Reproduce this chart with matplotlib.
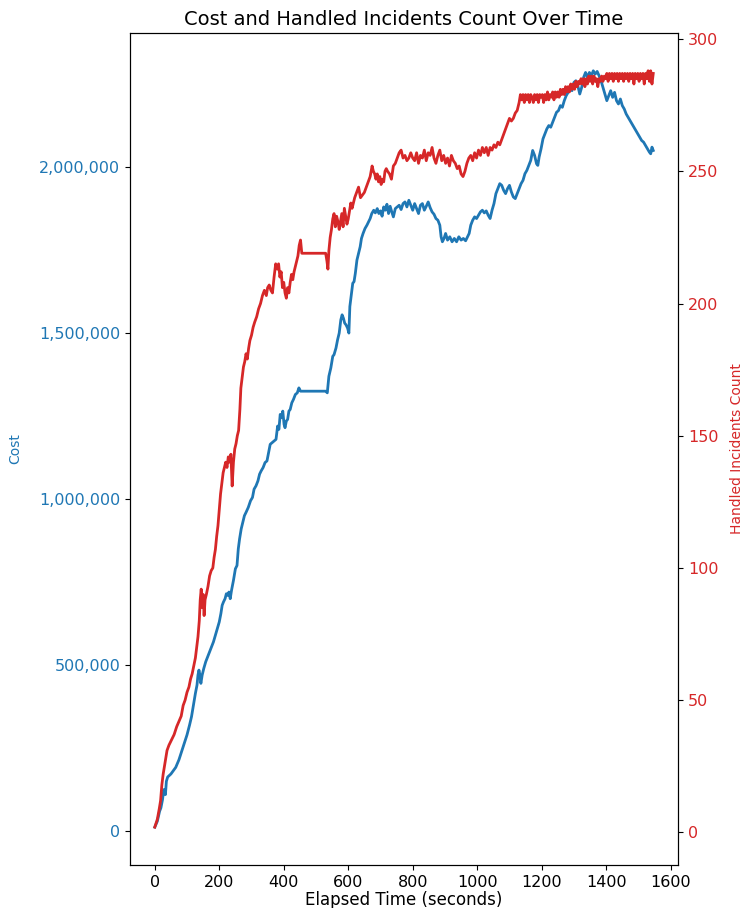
"""Cost and handled-incident count over the elapsed run time (twin y axes)."""

import matplotlib
matplotlib.use("Agg")
import matplotlib.pyplot as plt
from matplotlib.ticker import FuncFormatter

# cost trace: (elapsed seconds, cumulative cost)
COST_T = [
    0, 8, 15, 19, 24, 28, 33, 36, 40, 50, 65, 75, 85, 92, 100, 108, 114, 120, 126, 131,
    134, 137, 140, 143, 147, 152, 158, 164, 170, 176, 182, 188, 194, 200, 205, 209, 213, 218, 222, 226,
    230, 234, 238, 244, 250, 255, 259, 263, 268, 273, 278, 283, 290, 297, 303, 308, 314, 320, 325, 330,
    336, 342, 348, 353, 358, 364, 370, 376, 381, 385, 389, 393, 397, 401, 404, 408, 412, 416, 420, 425,
    430, 436, 442, 447, 452, 530, 535, 540, 546, 552, 556, 562, 567, 572, 577, 581, 585, 589, 593, 598,
    602, 605, 610, 614, 618, 622, 627, 632, 637, 641, 646, 652, 658, 663, 668, 673, 679, 684, 690, 695,
    700, 705, 710, 715, 720, 725, 730, 735, 740, 746, 752, 758, 764, 770, 776, 782, 788, 794, 800, 806,
    812, 818, 824, 830, 836, 842, 848, 854, 860, 866, 872, 878, 884, 888, 892, 897, 902, 908, 915, 922,
    929, 936, 943, 950, 957, 964, 970, 975, 980, 986, 992, 998, 1004, 1010, 1016, 1022, 1028, 1034, 1040, 1046,
    1052, 1058, 1064, 1070, 1076, 1082, 1088, 1094, 1100, 1106, 1112, 1118, 1124, 1130, 1136, 1142, 1148, 1154, 1160, 1166,
    1172, 1178, 1184, 1188, 1192, 1198, 1204, 1210, 1216, 1222, 1228, 1234, 1240, 1246, 1252, 1258, 1264, 1270, 1276, 1282,
    1288, 1294, 1300, 1306, 1312, 1318, 1324, 1330, 1336, 1342, 1348, 1354, 1360, 1366, 1372, 1378, 1384, 1390, 1396, 1402,
    1408, 1414, 1420, 1426, 1432, 1438, 1444, 1450, 1456, 1462, 1468, 1474, 1480, 1486, 1492, 1498, 1504, 1510, 1516, 1522,
    1528, 1534, 1538, 1542, 1546,
]
COST = [
    12000, 30000, 60000, 70000, 95000, 125000, 110000, 150000, 163000, 172000, 192000, 215000, 245000, 265000, 290000, 320000, 345000, 380000, 415000, 440000,
    470000, 485000, 470000, 445000, 470000, 490000, 510000, 525000, 540000, 555000, 570000, 590000, 610000, 630000, 655000, 680000, 690000, 700000, 715000, 710000,
    720000, 700000, 725000, 755000, 790000, 800000, 850000, 880000, 910000, 930000, 950000, 960000, 975000, 995000, 1005000, 1030000, 1040000, 1055000, 1075000, 1085000,
    1095000, 1110000, 1115000, 1140000, 1165000, 1170000, 1175000, 1180000, 1220000, 1210000, 1255000, 1245000, 1265000, 1225000, 1215000, 1235000, 1240000, 1265000, 1270000, 1290000,
    1300000, 1315000, 1320000, 1335000, 1325000, 1325000, 1320000, 1370000, 1395000, 1430000, 1435000, 1455000, 1480000, 1500000, 1540000, 1555000, 1545000, 1530000, 1525000, 1515000,
    1500000, 1580000, 1620000, 1650000, 1655000, 1680000, 1720000, 1740000, 1760000, 1785000, 1800000, 1815000, 1825000, 1835000, 1845000, 1860000, 1870000, 1862000, 1875000, 1860000,
    1868000, 1852000, 1880000, 1870000, 1888000, 1860000, 1882000, 1865000, 1850000, 1875000, 1880000, 1885000, 1872000, 1890000, 1895000, 1880000, 1900000, 1885000, 1870000, 1890000,
    1875000, 1860000, 1885000, 1890000, 1870000, 1882000, 1895000, 1878000, 1865000, 1858000, 1845000, 1840000, 1825000, 1790000, 1775000, 1785000, 1800000, 1780000, 1790000, 1775000,
    1785000, 1775000, 1790000, 1780000, 1785000, 1778000, 1790000, 1800000, 1825000, 1840000, 1850000, 1845000, 1855000, 1865000, 1870000, 1862000, 1868000, 1855000, 1845000, 1870000,
    1890000, 1920000, 1935000, 1950000, 1945000, 1930000, 1920000, 1935000, 1945000, 1925000, 1910000, 1905000, 1920000, 1935000, 1950000, 1960000, 1980000, 1990000, 2005000, 2020000,
    2050000, 2035000, 2010000, 2005000, 2030000, 2055000, 2085000, 2100000, 2115000, 2125000, 2120000, 2135000, 2150000, 2165000, 2170000, 2185000, 2180000, 2200000, 2215000, 2225000,
    2240000, 2230000, 2255000, 2260000, 2245000, 2220000, 2240000, 2270000, 2285000, 2270000, 2285000, 2275000, 2290000, 2280000, 2288000, 2275000, 2260000, 2240000, 2220000, 2200000,
    2215000, 2230000, 2210000, 2225000, 2200000, 2190000, 2205000, 2185000, 2175000, 2160000, 2150000, 2140000, 2130000, 2120000, 2110000, 2100000, 2090000, 2080000, 2075000, 2065000,
    2055000, 2045000, 2040000, 2060000, 2050000,
]

# handled incidents trace: (elapsed seconds, count)
COUNT_T = [
    0, 8, 14, 18, 22, 26, 30, 34, 38, 44, 52, 60, 68, 75, 82, 88, 94, 100, 106, 111,
    116, 121, 126, 130, 134, 138, 141, 144, 147, 150, 153, 156, 160, 165, 170, 175, 180, 184, 188, 192,
    196, 200, 204, 208, 212, 216, 220, 224, 228, 232, 236, 240, 244, 248, 252, 256, 260, 264, 267, 271,
    275, 279, 283, 287, 291, 295, 300, 305, 310, 316, 322, 328, 334, 340, 346, 350, 355, 360, 365, 370,
    375, 380, 384, 388, 392, 396, 400, 404, 408, 412, 416, 420, 424, 428, 432, 436, 440, 444, 448, 452,
    456, 530, 534, 537, 540, 544, 548, 552, 556, 560, 564, 568, 572, 576, 580, 584, 588, 592, 596, 600,
    604, 608, 612, 616, 620, 626, 632, 638, 644, 650, 656, 662, 668, 674, 678, 682, 686, 690, 694, 698,
    702, 706, 710, 714, 718, 722, 728, 734, 740, 746, 752, 758, 764, 770, 776, 782, 788, 794, 800, 806,
    812, 818, 824, 830, 836, 842, 848, 854, 860, 866, 872, 878, 884, 890, 896, 902, 908, 914, 920, 926,
    932, 938, 944, 950, 956, 962, 968, 974, 980, 986, 992, 998, 1004, 1010, 1016, 1022, 1028, 1034, 1040, 1046,
    1052, 1058, 1064, 1070, 1076, 1082, 1088, 1094, 1100, 1106, 1112, 1118, 1124, 1130, 1134, 1138, 1142, 1146, 1150, 1154,
    1158, 1162, 1166, 1170, 1174, 1178, 1182, 1186, 1190, 1194, 1198, 1202, 1206, 1210, 1214, 1218, 1222, 1226, 1230, 1234,
    1238, 1242, 1246, 1250, 1254, 1258, 1262, 1266, 1270, 1274, 1278, 1282, 1286, 1290, 1294, 1298, 1302, 1306, 1310, 1314,
    1318, 1322, 1326, 1330, 1334, 1338, 1342, 1346, 1350, 1354, 1358, 1362, 1366, 1370, 1374, 1378, 1382, 1386, 1390, 1394,
    1398, 1402, 1406, 1410, 1414, 1418, 1422, 1426, 1430, 1434, 1438, 1442, 1446, 1450, 1454, 1458, 1462, 1466, 1470, 1474,
    1478, 1482, 1486, 1490, 1494, 1498, 1502, 1506, 1510, 1514, 1518, 1522, 1526, 1530, 1534, 1538, 1542, 1546,
]
COUNT = [
    2, 5, 9, 12, 18, 22, 25, 28, 31, 33, 35, 37, 40, 42, 44, 48, 50, 53, 55, 58,
    60, 63, 66, 70, 74, 80, 88, 92, 85, 90, 82, 88, 90, 93, 97, 99, 100, 104, 107, 112,
    116, 122, 128, 132, 136, 138, 140, 138, 142, 140, 143, 131, 140, 145, 147, 150, 152, 160, 168, 172,
    176, 178, 181, 179, 183, 186, 188, 191, 193, 195, 198, 200, 203, 205, 203, 206, 207, 205, 204, 210,
    215, 213, 215, 210, 212, 206, 208, 204, 202, 206, 204, 208, 211, 209, 212, 214, 216, 218, 222, 224,
    219, 219, 216, 213, 220, 225, 228, 232, 234, 229, 233, 231, 228, 231, 234, 229, 236, 233, 230, 232,
    235, 238, 236, 238, 240, 242, 244, 240, 241, 242, 244, 246, 248, 252, 250, 249, 247, 249, 246, 248,
    245, 247, 246, 250, 251, 250, 249, 247, 252, 253, 255, 257, 258, 255, 256, 254, 255, 257, 255, 254,
    257, 253, 256, 255, 258, 254, 257, 256, 259, 255, 253, 256, 258, 254, 256, 253, 255, 252, 256, 254,
    253, 251, 252, 249, 248, 250, 253, 255, 256, 254, 257, 255, 258, 256, 259, 257, 259, 256, 259, 258,
    260, 259, 261, 260, 262, 264, 266, 268, 270, 269, 270, 272, 273, 276, 279, 277, 279, 276, 279, 277,
    279, 276, 279, 278, 276, 279, 277, 279, 276, 279, 278, 279, 276, 279, 277, 280, 277, 279, 278, 280,
    277, 280, 278, 280, 278, 281, 279, 281, 279, 282, 280, 282, 280, 283, 281, 283, 281, 284, 282, 284,
    283, 285, 283, 285, 282, 285, 283, 286, 284, 286, 283, 286, 284, 285, 282, 285, 284, 286, 284, 286,
    285, 287, 284, 287, 285, 287, 284, 287, 285, 287, 284, 287, 285, 287, 284, 287, 285, 287, 284, 287,
    285, 287, 283, 287, 285, 287, 284, 287, 285, 287, 283, 287, 285, 288, 284, 288, 283, 287,
]

COST_COLOR = "tab:blue"
COUNT_COLOR = "tab:red"

fig, ax1 = plt.subplots(figsize=(7.42, 9.08), dpi=100)
fig.subplots_adjust(left=0.175, right=0.914, top=0.9637, bottom=0.0474)

ax1.plot(COST_T, COST, color=COST_COLOR, linewidth=2)
ax1.set_xlabel("Elapsed Time (seconds)", fontsize=12, labelpad=1)
ax1.set_ylabel("Cost", color=COST_COLOR, fontsize=10, labelpad=12)
ax1.tick_params(axis="y", labelcolor=COST_COLOR, labelsize=11.5)
ax1.tick_params(axis="x", labelsize=11.5)
ax1.yaxis.set_major_formatter(FuncFormatter(lambda v, _: f"{v:,.0f}"))
ax1.set_xticks(range(0, 1601, 200))

ax2 = ax1.twinx()
ax2.plot(COUNT_T, COUNT, color=COUNT_COLOR, linewidth=2)
ax2.set_ylabel("Handled Incidents Count", color=COUNT_COLOR, fontsize=10, labelpad=8)
ax2.tick_params(axis="y", labelcolor=COUNT_COLOR, labelsize=11.5)

ax1.set_title("Cost and Handled Incidents Count Over Time", fontsize=14)

fig.savefig("out.png", dpi=100)
